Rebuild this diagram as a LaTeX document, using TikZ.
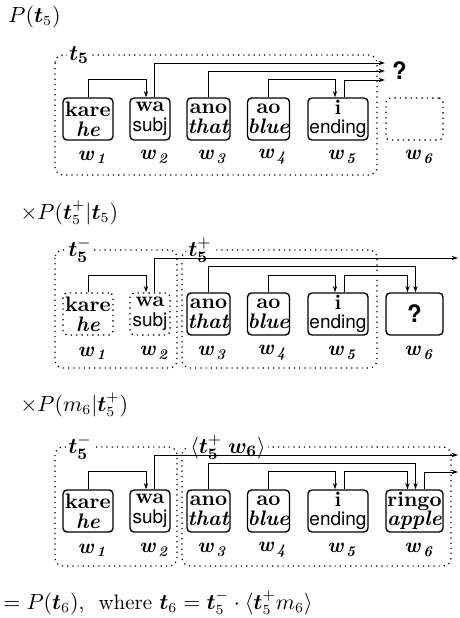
\documentclass[tikz,border=0pt]{standalone}
\usepackage{amsmath,amssymb,bm}
\usepackage{fontspec}
\setsansfont{TeX Gyre Heros}
\usetikzlibrary{arrows.meta}

\tikzset{
  word/.style={draw, line width=0.7pt, rounded corners=2pt, minimum height=21pt, inner sep=0pt, align=center, font=\fontsize{10.5}{9.8}\selectfont},
  ghost/.style={word, dotted, line width=0.6pt},
  group/.style={draw, dotted, line width=0.6pt, rounded corners=4pt},
  glabel/.style={fill=white, inner sep=1pt, font=\fontsize{11}{12}\selectfont},
  wlab/.style={font=\fontsize{10.5}{12}\selectfont},
  plab/.style={anchor=west, inner sep=0pt, font=\fontsize{10.5}{12}\selectfont},
  link/.style={line width=0.45pt, -{Stealth[open, length=3.2pt, width=2.2pt]}},
  qmark/.style={font=\sffamily\bfseries\fontsize{12}{12}\selectfont}
}
\newcommand{\wl}[1]{\textbf{\textit{w}}\textsubscript{\,\textbf{\textit{#1}}}}
\newcommand{\gl}[1]{\textbf{\textit{#1}}}
\newcommand{\sfl}[1]{{\sffamily\fontsize{9.5}{9.8}\selectfont #1}}

\begin{document}
\begin{tikzpicture}[x=0.5pt, y=-0.5pt]
    \useasboundingbox (0,0) rectangle (460,618);

    % P(t5)
    \node[plab] (p1) at (8,17) {$P(\bm{t}_5)$};
    \draw[group] (55,55) rectangle (377,175);
    \node[glabel] (g1) at (79,55) {$\bm{t}_{\bm{5}}$};
    \node[word, minimum width=25pt] (a1) at (88,119) {\textbf{kare}\\\gl{he}};
    \node[word, minimum width=20pt] (a2) at (150,119) {\textbf{wa}\\\sfl{subj}};
    \node[word, minimum width=21.5pt] (a3) at (208.5,119) {\textbf{ano}\\\gl{that}};
    \node[word, minimum width=21pt] (a4) at (268.5,119) {\textbf{ao}\\\gl{blue}};
    \node[word, minimum width=30pt] (a5) at (338,119) {\textbf{i}\\\sfl{ending}};
    \node[ghost, minimum width=28.5pt] (a6) at (414.5,119) {};
    \foreach \i/\x in {1/92,2/154,3/212,4/272,5/342,6/419}
        \node[wlab] (wa\i) at (\x,157) {\wl{\i}};
    \coordinate (o1a) at (385,63);
    \coordinate (o1b) at (385,71);
    \coordinate (o1c) at (385,80);
    \node[qmark, anchor=west] (q1) at (o1b) {?};
    \draw[link] (a1.north) -- ++(0,-18) -| ([xshift=-2pt]a2.north);
    \draw[link] ([xshift=2pt]a2.north) |- (o1a);
    \draw[link] (a3.north) |- (o1b);
    \draw[link] (a4.north) -- ++(0,-18) -| ([xshift=-1.5pt]a5.north);
    \draw[link] ([xshift=3pt]a5.north) |- (o1c);

    % x P(t5+ | t5)
    \node[plab] (p2) at (20,213) {$\times P(\bm{t}_5^+|\bm{t}_5)$};
    \draw[group] (55,250) rectangle (177,368);
    \draw[group] (182,250) rectangle (377,368);
    \node[glabel] (g2a) at (80,250) {$\bm{t}_{\bm{5}}^{-}$};
    \node[glabel] (g2b) at (200,250) {$\bm{t}_{\bm{5}}^{+}$};
    \node[ghost, minimum width=25pt] (b1) at (88,314) {\textbf{kare}\\\gl{he}};
    \node[ghost, minimum width=20pt] (b2) at (150,314) {\textbf{wa}\\\sfl{subj}};
    \node[word, minimum width=21.5pt] (b3) at (208.5,314) {\textbf{ano}\\\gl{that}};
    \node[word, minimum width=21pt] (b4) at (268.5,314) {\textbf{ao}\\\gl{blue}};
    \node[word, minimum width=30pt] (b5) at (338,314) {\textbf{i}\\\sfl{ending}};
    \node[word, minimum width=28.5pt, qmark] (b6) at (414.5,314) {?};
    \foreach \i/\x in {1/92,2/154,3/212,4/272,5/342,6/419}
        \node[wlab] (wb\i) at (\x,353) {\wl{\i}};
    \coordinate (o2) at (458,258);
    \draw[link] (b1.north) -- ++(0,-17) -| ([xshift=-2pt]b2.north);
    \draw[link] ([xshift=2pt]b2.north) |- (o2);
    \draw[link] (b3.north) -- ++(0,-26) -| ([xshift=0.5pt]b6.north);
    \draw[link] (b4.north) -- ++(0,-17) -| ([xshift=-1.5pt]b5.north);
    \draw[link] ([xshift=3pt]b5.north) -- ++(0,-17) -| ([xshift=-3.5pt]b6.north);

    % x P(m6 | t5+)
    \node[plab] (p3) at (20,405) {$\times P(m_6|\bm{t}_5^+)$};
    \draw[group] (55,447) rectangle (177,566);
    \draw[group] (182,447) rectangle (451,566);
    \node[glabel] (g3a) at (80,447) {$\bm{t}_{\bm{5}}^{-}$};
    \node[glabel] (g3b) at (228,447) {$\langle\bm{t}_{\bm{5}}^{+}\;\bm{w}_{\bm{6}}\rangle$};
    \node[word, minimum width=25pt] (c1) at (88,511) {\textbf{kare}\\\gl{he}};
    \node[word, minimum width=20pt] (c2) at (150,511) {\textbf{wa}\\\sfl{subj}};
    \node[word, minimum width=21.5pt] (c3) at (208.5,511) {\textbf{ano}\\\gl{that}};
    \node[word, minimum width=21pt] (c4) at (268.5,511) {\textbf{ao}\\\gl{blue}};
    \node[word, minimum width=30pt] (c5) at (338,511) {\textbf{i}\\\sfl{ending}};
    \node[word, minimum width=28.5pt] (c6) at (414.5,511) {\textbf{ringo}\\\gl{apple}};
    \foreach \i/\x in {1/92,2/154,3/212,4/272,5/342,6/419}
        \node[wlab] (wc\i) at (\x,550) {\wl{\i}};
    \coordinate (o3a) at (458,455);
    \coordinate (o3b) at (458,472);
    \draw[link] (c1.north) -- ++(0,-18) -| ([xshift=-2pt]c2.north);
    \draw[link] ([xshift=2pt]c2.north) |- (o3a);
    \draw[link] (c3.north) -- ++(0,-26) -| ([xshift=0.5pt]c6.north);
    \draw[link] (c4.north) -- ++(0,-18) -| ([xshift=-1.5pt]c5.north);
    \draw[link] ([xshift=3pt]c5.north) -- ++(0,-18) -| ([xshift=-3.5pt]c6.north);
    \draw[link] ([xshift=4.75pt]c6.north) |- (o3b);

    % result
    \node[plab] (p4) at (3,603) {$= P(\bm{t}_6)$,\ \ where $\bm{t}_6 = \bm{t}_5^- \cdot \langle \bm{t}_5^+ m_6\rangle$};
\end{tikzpicture}
\end{document}
